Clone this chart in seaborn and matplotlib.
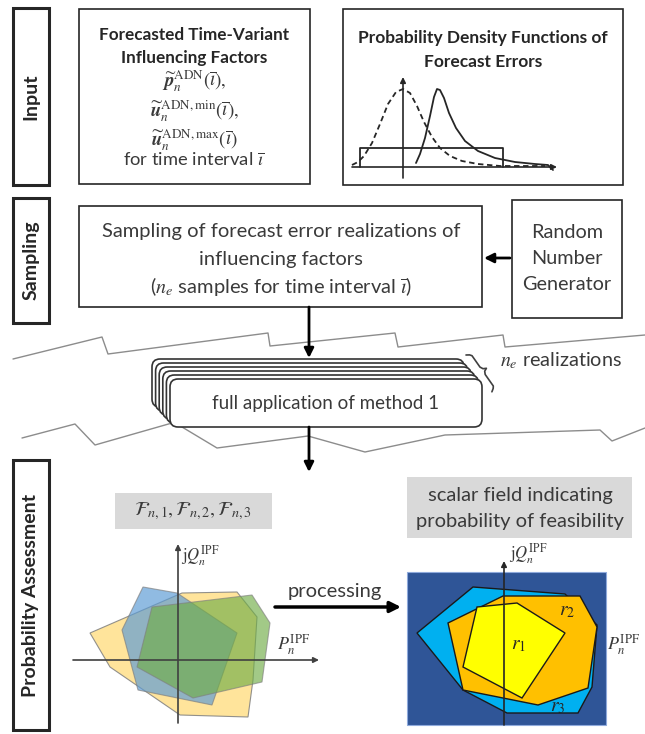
"""Flow diagram: probabilistic assessment of feasible operating regions."""
import matplotlib.pyplot as plt
import seaborn as sns
from matplotlib.patches import FancyBboxPatch, Polygon, Rectangle

sns.set_theme(style="white")
plt.rcParams["font.family"] = ["Lato", "DejaVu Sans"]
plt.rcParams["mathtext.fontset"] = "stix"

TXT = "#3A3A3A"
EDGE = "#262626"

# section labels (text, y-top, y-bottom)
section_labels = ["Input", "Sampling", "Probability Assessment"]
section_top = [8, 198, 460]
section_bottom = [185, 323, 730]

# forecast box lines
forecast_titles = ["Forecasted Time-Variant", "Influencing Factors"]
forecast_math = [
    r"$\widetilde{\mathbfit{p}}_n^{\mathrm{ADN}}(\overline{\imath}),$",
    r"$\widetilde{\mathbfit{u}}_n^{\mathrm{ADN,min}}(\overline{\imath}),$",
    r"$\widetilde{\mathbfit{u}}_n^{\mathrm{ADN,max}}(\overline{\imath})$",
]
pdf_titles = ["Probability Density Functions of", "Forecast Errors"]
sampling_lines = ["Sampling of forecast error realizations of",
                  "influencing factors",
                  r"($n_e$ samples for time interval $\overline{\imath}$)"]
rng_lines = ["Random", "Number", "Generator"]

# forecast-error pdf sketch (picture coordinates)
gauss_x = [352, 358, 364, 372, 380, 388, 396, 403, 410, 417, 424, 432, 440, 450, 462, 478, 500, 525, 545]
gauss_y = [165, 162, 156, 143, 124, 104, 92, 89, 93, 106, 122, 137, 148, 156, 161, 164, 166, 166, 166]
skew_x = [416, 420, 425, 430, 434, 437, 440, 444, 449, 456, 465, 478, 495, 515, 535, 548, 553]
skew_y = [163, 154, 138, 116, 97, 89, 90, 98, 113, 128, 141, 151, 158, 162, 164, 165, 170]
uniform_x = [360, 360, 503, 503]
uniform_y = [167, 148, 148, 167]

# zig-zag separators
zig_top_x = [13, 102, 108, 268, 270, 395, 398, 503, 505, 645]
zig_top_y = [359, 337, 354, 333, 346, 333, 347, 335, 347, 335]
zig_bot_x = [22, 75, 95, 172, 182, 217, 308, 365, 445, 600, 612, 645]
zig_bot_y = [438, 424, 445, 423, 427, 448, 436, 452, 435, 430, 441, 428]

# curly brace next to the card stack
brace_x = [466, 469.6, 472.0, 480.0, 483.0, 486.4, 484.7, 485.2, 493.3, 493.2, 491.9]
brace_y = [355, 354.9, 355.7, 367.1, 368.7, 368.3, 371.2, 374.5, 386.0, 388.4, 391.8]

# feasible regions F_n,1..3 (left panel)
left_polys = {
    "yellow": [(90, 633), (182, 593), (237, 592), (257, 617), (253, 680), (248, 717), (180, 715), (110, 667)],
    "blue": [(122, 630), (143, 587), (177, 593), (237, 633), (212, 705), (138, 690)],
    "green": [(152, 607), (252, 595), (270, 623), (262, 682), (193, 698), (137, 667)],
}
left_colors = {"yellow": ("#FFE08A", 0.85), "blue": ("#5B9BD5", 0.68), "green": ("#70AD47", 0.65)}

# scalar field regions r3 (1 of 3), r2 (2 of 3), r1 (all)
right_polys = {
    "r3": [(417, 633), (473, 587), (565, 594), (597, 625), (592, 687), (578, 713), (507, 713), (463, 690)],
    "r2": [(448, 623), (503, 596), (580, 596), (597, 627), (588, 688), (538, 705), (463, 690)],
    "r1": [(477, 607), (517, 603), (565, 633), (522, 698), (463, 667)],
}
right_colors = {"r3": "#00B0F0", "r2": "#FFC000", "r1": "#FFFF00"}
region_labels = ["$r_1$", "$r_2$", "$r_3$"]
region_pos = [(518, 645), (567, 612), (558, 707)]

fig = plt.figure(figsize=(6.45, 7.34), dpi=100)
ax = fig.add_axes([0, 0, 1, 1])
ax.set_xlim(0, 645)
ax.set_ylim(734, 0)
ax.axis("off")


def box(x0, y0, x1, y1, lw=1.2, fc="white", ec=EDGE, z=2):
    ax.add_patch(Rectangle((x0, y0), x1 - x0, y1 - y0, fc=fc, ec=ec, lw=lw, zorder=z))


def arrow(start, tip, lw=2.0, ms=14, color="black"):
    ax.annotate("", xy=tip, xytext=start,
                arrowprops=dict(arrowstyle="-|>", color=color, lw=lw, mutation_scale=ms,
                                shrinkA=0, shrinkB=0), zorder=6)


# section label boxes
for label, top, bot in zip(section_labels, section_top, section_bottom):
    box(13, top, 49, bot, lw=2.2)
    ax.text(31, (top + bot) / 2, label, rotation=90, ha="center", va="center",
            fontsize=14, fontweight="bold", color="#262626", zorder=3)

# input boxes
box(79, 9, 310, 184)
for i, t in enumerate(forecast_titles):
    ax.text(194, 35 + 23 * i, t, ha="center", va="center", fontsize=12.3,
            fontweight="bold", color="#262626", zorder=3)
ax.text(194, 111, "\n".join(forecast_math), ha="center", va="center", fontsize=13.5,
        linespacing=1.2, color=TXT, zorder=3)
ax.text(194, 160, r"for time interval $\overline{\imath}$", ha="center", va="center",
        fontsize=13.2, color=TXT, zorder=3)

box(343, 9, 623, 185)
for i, t in enumerate(pdf_titles):
    ax.text(483, 38 + 24 * i, t, ha="center", va="center", fontsize=12.5,
            fontweight="bold", color="#262626", zorder=3)
sns.lineplot(x=uniform_x, y=uniform_y, sort=False, estimator=None, color="#262626", lw=1.3, ax=ax, zorder=4)
sns.lineplot(x=gauss_x, y=gauss_y, sort=False, estimator=None, color="#262626", lw=1.3,
             linestyle=(0, (3, 2)), ax=ax, zorder=4)
sns.lineplot(x=skew_x, y=skew_y, sort=False, estimator=None, color="#262626", lw=1.3, ax=ax, zorder=4)
arrow((352, 167), (557, 167), lw=1.2, ms=8, color="#262626")
arrow((403, 178), (403, 77), lw=1.2, ms=8, color="#262626")

# sampling
box(79, 206, 482, 307)
for i, t in enumerate(sampling_lines):
    ax.text(281, 232 + 27 * i, t, ha="center", va="center", fontsize=14.5, color=TXT, zorder=3)
box(512, 200, 622, 318)
for i, t in enumerate(rng_lines):
    ax.text(567, 232 + 26 * i, t, ha="center", va="center", fontsize=14.3, color=TXT, zorder=3)
arrow((510, 258), (484, 258))
arrow((309, 307), (309, 358))

# zig-zags
sns.lineplot(x=zig_top_x, y=zig_top_y, sort=False, estimator=None, color="#8C8C8C", lw=1.0, ax=ax, zorder=1)
sns.lineplot(x=zig_bot_x, y=zig_bot_y, sort=False, estimator=None, color="#8C8C8C", lw=1.0, ax=ax, zorder=1)

# stacked method cards
n_cards = 6
for k in range(n_cards - 1, -1, -1):
    dx, dy = -3.6 * k, -4.0 * k
    ax.add_patch(FancyBboxPatch((170 + dx, 379 + dy), 312, 48,
                                boxstyle="round,pad=0,rounding_size=8",
                                fc="white", ec="#333333", lw=1.2, zorder=3 + 0.01 * (n_cards - k)))
ax.text(326, 404, "full application of method 1", ha="center", va="center",
        fontsize=13.5, color=TXT, zorder=5)
sns.lineplot(x=brace_x, y=brace_y, sort=False, estimator=None, color="#404040", lw=1.2, ax=ax, zorder=5)
ax.text(500, 361, r"$n_e$ realizations", ha="left", va="center", fontsize=14.3, color=TXT, zorder=5)
arrow((309, 427), (309, 472))

# left panel: feasible regions
box(115, 493, 272, 529, lw=0, fc="#D9D9D9", ec="none")
ax.text(193, 511, r"$\mathcal{F}_{n,1}, \mathcal{F}_{n,2}, \mathcal{F}_{n,3}$", ha="center",
        va="center", fontsize=14.5, color=TXT, zorder=3)
for name, pts in left_polys.items():
    c, a = left_colors[name]
    ax.add_patch(Polygon(pts, closed=True, fc=c, alpha=a, ec="#7F7F7F", lw=0.8, zorder=2))
arrow((73, 660), (319, 660), lw=1.2, ms=8, color="#404040")
arrow((178, 723), (178, 544), lw=1.2, ms=8, color="#404040")
ax.text(181, 556, r"$\mathrm{j}Q_n^{\mathrm{IPF}}$", ha="left", va="center", fontsize=12, color=TXT, zorder=6)
ax.text(277, 645, r"$P_n^{\mathrm{IPF}}$", ha="left", va="center", fontsize=13, color=TXT, zorder=6)

# processing arrow
ax.text(335, 592, "processing", ha="center", va="center", fontsize=14.5, color=TXT, zorder=5)
arrow((275, 607), (401, 607), lw=2.5, ms=16)

# right panel: scalar field
box(407, 477, 632, 538, lw=0, fc="#D9D9D9", ec="none")
ax.text(520, 495, "scalar field indicating", ha="center", va="center", fontsize=14.5, color=TXT, zorder=3)
ax.text(520, 522, "probability of feasibility", ha="center", va="center", fontsize=14.5, color=TXT, zorder=3)
box(407, 572, 606, 725, lw=0.8, fc="#2F5597", ec="#8FAADC", z=1)
for name, pts in right_polys.items():
    ax.add_patch(Polygon(pts, closed=True, fc=right_colors[name], ec="#1A1A1A", lw=1.0, zorder=2))
for lab, (x, y) in zip(region_labels, region_pos):
    ax.text(x, y, lab, ha="center", va="center", fontsize=14, color="#262626", zorder=6)
arrow((400, 660), (646, 660), lw=1.2, ms=8, color="#262626")
arrow((504, 725), (504, 561), lw=1.2, ms=8, color="#262626")
ax.text(509, 554, r"$\mathrm{j}Q_n^{\mathrm{IPF}}$", ha="left", va="center", fontsize=12, color=TXT, zorder=6)
ax.text(607, 645, r"$P_n^{\mathrm{IPF}}$", ha="left", va="center", fontsize=13, color=TXT, zorder=6)

fig.savefig("out.png", dpi=100)
